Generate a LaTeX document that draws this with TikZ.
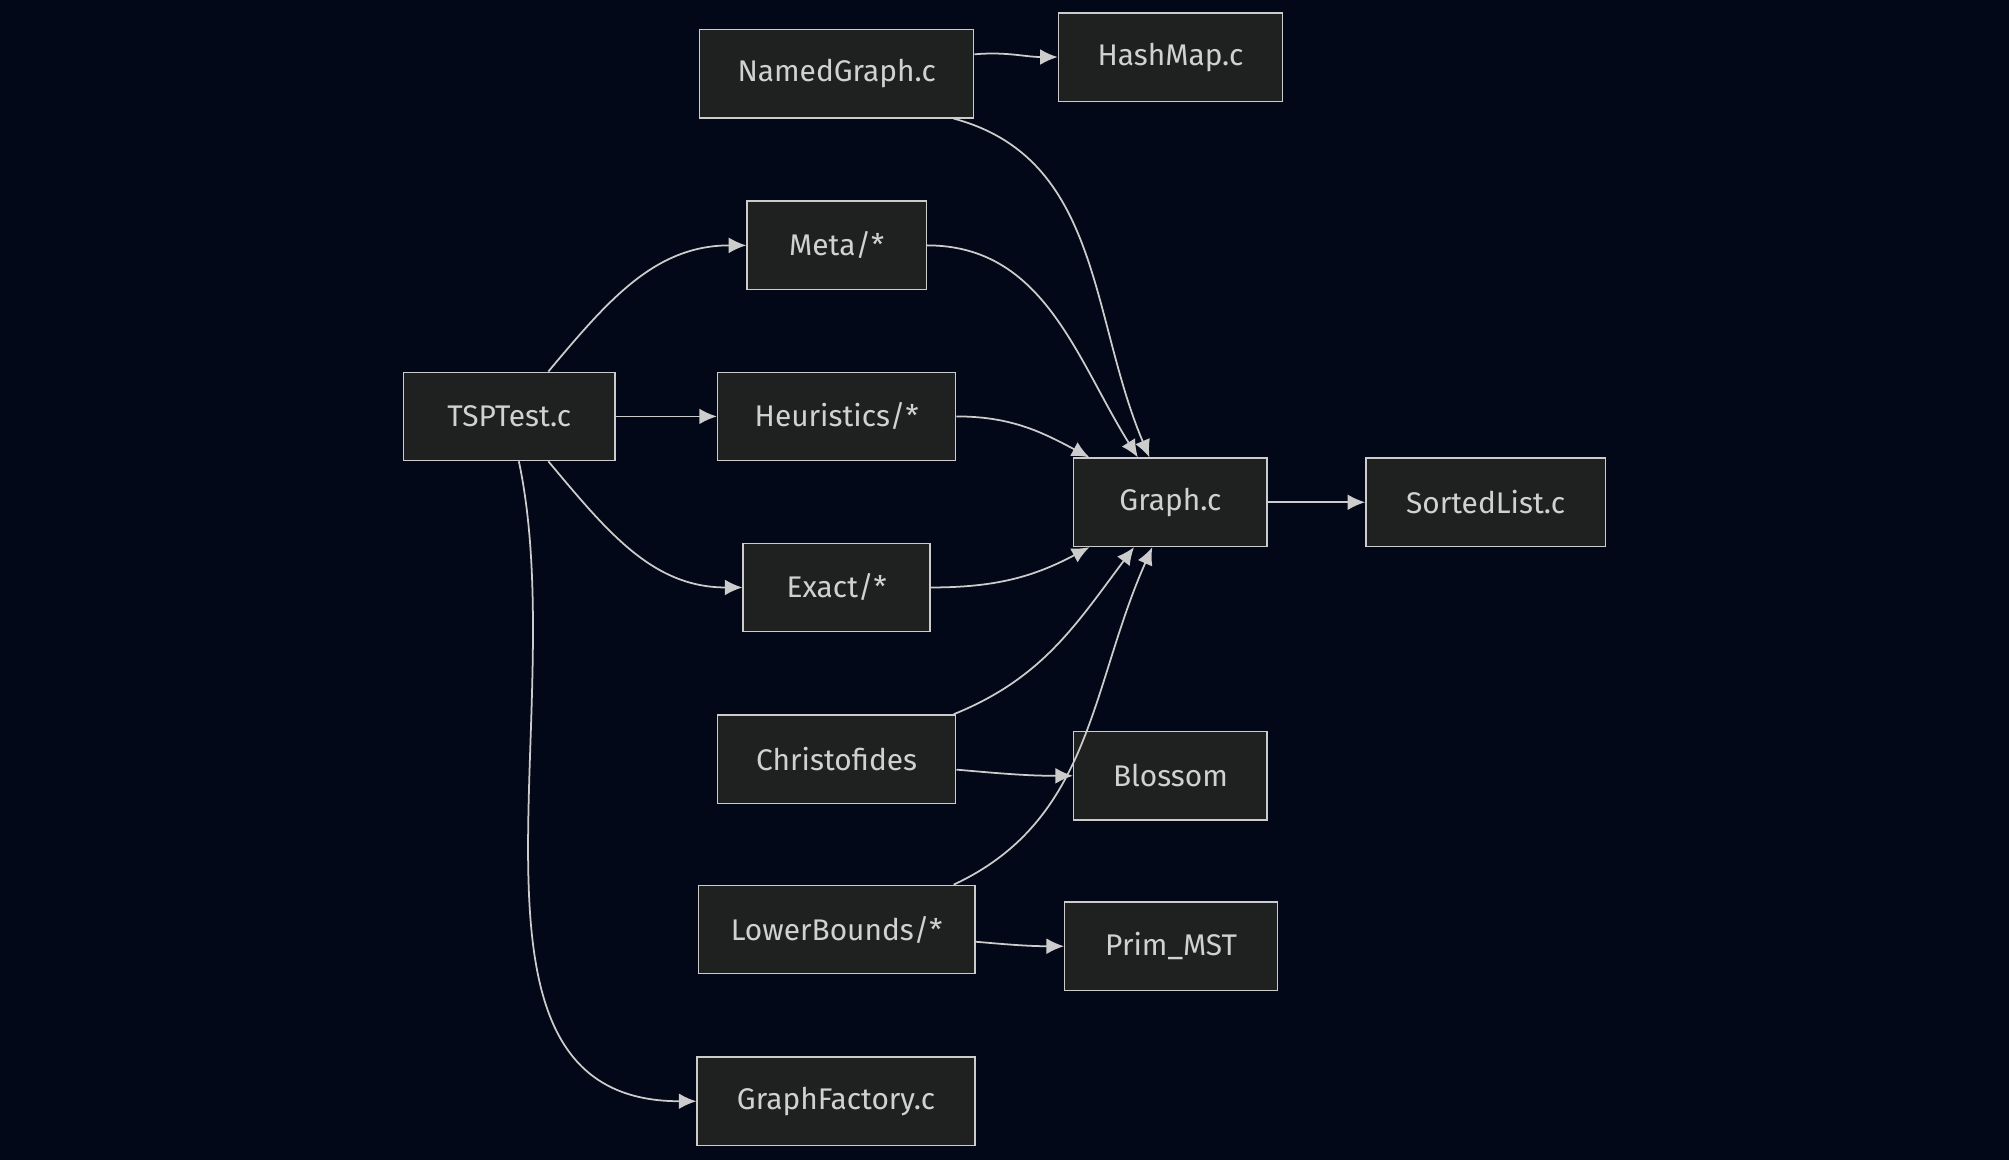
\documentclass[tikz,border=0pt]{standalone}
\usepackage{fontspec}
\setmainfont{Fira Sans}
\usetikzlibrary{arrows.meta}
\definecolor{bgc}{HTML}{020817}
\definecolor{boxc}{HTML}{1F2020}
\definecolor{linec}{HTML}{CCCCCC}
\begin{document}
\begin{tikzpicture}[x=0.012813cm,y=0.012813cm]
    \tikzstyle{every node}=[draw=linec, fill=boxc, text=linec!90!white, minimum height=0.884cm, inner sep=0pt, font=\fontsize{8.5}{10}\selectfont];
    \tikzstyle{dep}=[draw=linec, line width=0.5pt, -{Latex[length=5pt,width=4.5pt]}];
    \fill[bgc] (0,0) rectangle (1568,-905);
    \useasboundingbox (0,0) rectangle (1568,-905);
    % nodes
    \node[minimum width=2.742cm] (ng) at (653,-57.5) {NamedGraph.c};
    \node[minimum width=2.242cm] (hm) at (913.5,-44.5) {HashMap.c};
    \node[minimum width=1.794cm] (meta) at (653,-191.5) {Meta/*};
    \node[minimum width=2.114cm] (tsp) at (397.5,-325) {TSPTest.c};
    \node[minimum width=2.383cm] (heur) at (653,-325) {Heuristics/*};
    \node[minimum width=1.935cm] (graph) at (913.5,-392) {Graph.c};
    \node[minimum width=2.396cm] (sl) at (1159.5,-392) {SortedList.c};
    \node[minimum width=1.871cm] (exact) at (653,-458.5) {Exact/*};
    \node[minimum width=2.383cm] (chris) at (653,-592.5) {Christofides};
    \node[minimum width=1.935cm] (bl) at (913.5,-605.5) {Blossom};
    \node[minimum width=2.768cm] (lb) at (653,-725.5) {LowerBounds/*};
    \node[minimum width=2.127cm] (prim) at (914,-738.5) {Prim\_MST};
    \node[minimum width=2.780cm] (gf) at (652.5,-859.5) {GraphFactory.c};
    % edges
    \draw[dep] (ng.8) to[out=5,in=180] (hm.west);
    \draw[dep] (ng.339) to[out=-15,in=113] (graph.115);
    \draw[dep] (meta.east) to[out=0,in=122] (graph.126);
    \draw[dep] (tsp.49) to[out=50,in=180] (meta.west);
    \draw[dep] (tsp.east) -- (heur.west);
    \draw[dep] (heur.east) to[out=0,in=152] (graph.151);
    \draw[dep] (tsp.311) to[out=-50,in=180] (exact.west);
    \draw[dep] (exact.east) to[out=0,in=208] (graph.209);
    \draw[dep] (chris.21) to[out=22,in=233] (graph.231);
    \draw[dep] (chris.355) to[out=-5,in=180] (bl.west);
    \draw[dep] (lb.21) to[out=25,in=246] (graph.248);
    \draw[dep] (lb.355) to[out=-5,in=180] (prim.west);
    \draw[dep] (tsp.282) to[out=-78,in=180] (gf.west);
    \draw[dep] (graph.east) -- (sl.west);
\end{tikzpicture}
\end{document}
